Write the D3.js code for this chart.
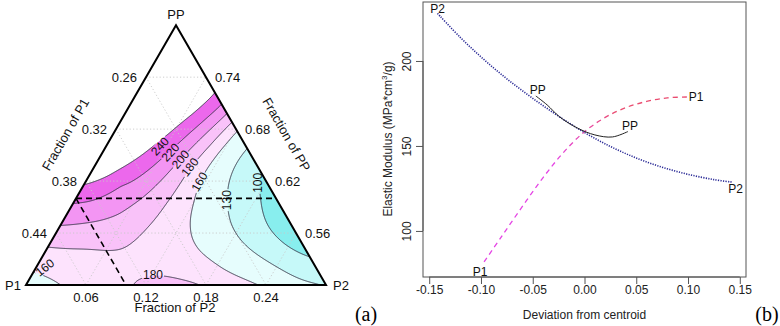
<!DOCTYPE html>
<html><head><meta charset="utf-8">
<script src="https://cdn.jsdelivr.net/npm/d3@7"></script>
<style>
body{margin:0;background:#fff;}
svg{display:block;font-family:"Liberation Sans",Arial,sans-serif;}
</style></head><body>
<svg id="c" width="780" height="326"></svg>
<script>
// ================= Panel (a): ternary contour data =================
const p2Ticks = [0.06, 0.12, 0.18, 0.24];
const ppTicks = [0.56, 0.62, 0.68, 0.74];
const p1Ticks = [0.26, 0.32, 0.38, 0.44];
const contourLevels = [100, 130, 160, 180, 200, 220, 240];
// fill for: <100, 100-130, 130-160, 160-180, 180-200, 200-220, 220-240, >240
const bandColors = ["#88eeee", "#c6f9f9", "#e6fdfd", "#fde3fd", "#f9c2f9", "#f395f3", "#ec68ec", "#ffffff"];
// points: [fraction P2, fraction PP]
const line240 = [[0.080,0.721],[0.069,0.697],[0.057,0.674],[0.042,0.651],[0.022,0.624],[0.000,0.608]];
const line220 = [[0.093,0.706],[0.079,0.680],[0.066,0.653],[0.048,0.612],[0.025,0.604],[0.000,0.601]];
const line200 = [[0.102,0.697],[0.089,0.670],[0.082,0.645],[0.070,0.608],[0.055,0.579],[0.025,0.572],[0.000,0.567]];
const line180 = [[0.113,0.685],[0.105,0.659],[0.096,0.636],[0.092,0.595],[0.087,0.567],[0.080,0.549],[0.067,0.541],[0.040,0.542],[0.000,0.544],
                 [0.099,0.500],[0.107,0.508],[0.122,0.510],[0.139,0.509],[0.164,0.505],[0.184,0.500]];
const line160 = [[0.118,0.682],[0.115,0.654],[0.114,0.625],[0.122,0.595],[0.134,0.564],[0.155,0.537],[0.188,0.517],[0.216,0.507],[0.241,0.500],
                 [0.000,0.516],[0.014,0.509],[0.032,0.500]];
const line130 = [[0.143,0.656],[0.143,0.625],[0.152,0.598],[0.168,0.572],[0.199,0.544],[0.248,0.517],[0.292,0.503]];
const line100 = [[0.165,0.633],[0.179,0.610],[0.198,0.581],[0.220,0.558],[0.246,0.541],[0.270,0.529]];
// other read values: [P2, PP, modulus]
const interiorPoints = [
  [0.001,0.795,300],[0.025,0.749,285],[0.023,0.703,270],[0.050,0.749,268],[0.006,0.636,255],[0.008,0.691,280],
  [0.2155,0.581,80],[0.238,0.552,92],[0.175,0.598,115],[0.271,0.515,118],
  [0.160,0.558,145],[0.125,0.627,145],[0.107,0.535,172],[0.052,0.523,170],[0.201,0.506,165],
  [0.000,0.500,150],[0.300,0.500,130],[0.131,0.506,183],[0.045,0.558,190],[0.038,0.614,210],[0.018,0.611,230]
];
// contour labels: [P2, PP, text, angle]
const contourLabels = [
  [0.054,0.660,"240",-48],[0.068,0.653,"220",-48],[0.082,0.645,"200",-50],[0.096,0.636,"180",-52],
  [0.114,0.619,"160",-60],[0.152,0.598,"130",-90],[0.173,0.618,"100",-90],[0.121,0.512,"180",0],[0.009,0.520,"160",-38]
];
const refPP = 0.60, refP1 = 0.40;

// ================= Panel (b): trace data =================
const devTicks = [-0.15,-0.10,-0.05,0.00,0.05,0.10,0.15];
const modTicks = [100,150,200];
const traceP2 = [[-0.142,228],[-0.12,213.9],[-0.098,201.3],[-0.075,189.5],[-0.05,178.0],[-0.025,167.5],[0,157.9],[0.025,149.7],[0.05,142.9],[0.075,137.5],[0.1,133.3],[0.125,130.2],[0.143,128.7]];
const tracePP = [[-0.047,179.4],[-0.036,174.1],[-0.024,167.1],[-0.007,160.6],[0.010,156.5],[0.027,155.3],[0.042,158.5]];
const traceP1 = [[-0.097,81.8],[-0.08,96.8],[-0.06,114.4],[-0.04,131.4],[-0.02,146.4],[0,158.4],[0.02,166.8],[0.04,172.6],[0.06,176.2],[0.08,178.3],[0.099,178.8]];

// ================= drawing =================
const svg = d3.select("#c");
const tx = d3.scaleLinear().domain([0, 0.3]).range([26, 326]);
const ty = d3.scaleLinear().domain([0.5, 0.8]).range([285, 25.2]);
const proj = (p2, pp) => [tx(p2 + (pp - 0.5) / 2), ty(pp)];

// response surface: thin-plate smoothing spline through the read values
const table = [];
[[line100,100],[line130,130],[line160,160],[line180,180],[line200,200],[line220,220],[line240,240]]
  .forEach(([pts, v]) => pts.forEach(p => table.push([p[0], p[1], v])));
interiorPoints.forEach(p => table.push(p));
const nodes = table.map(([p2, pp, v]) => { const [X, Y] = proj(p2, pp); return [X / 100, Y / 100, v]; });
const phi = r2 => r2 > 1e-12 ? 0.5 * r2 * Math.log(r2) : 0;
function solve(A, b) { const n = b.length; const M = A.map((r, i) => [...r, b[i]]);
  for (let k = 0; k < n; k++) { let p = k; for (let i = k + 1; i < n; i++) if (Math.abs(M[i][k]) > Math.abs(M[p][k])) p = i;
    [M[k], M[p]] = [M[p], M[k]];
    for (let i = k + 1; i < n; i++) { const f = M[i][k] / M[k][k]; if (f === 0) continue; for (let j = k; j <= n; j++) M[i][j] -= f * M[k][j]; } }
  const x = new Array(n).fill(0);
  for (let i = n - 1; i >= 0; i--) { let s = M[i][n]; for (let j = i + 1; j < n; j++) s -= M[i][j] * x[j]; x[i] = s / M[i][i]; }
  return x; }
const N = nodes.length, LAM = 0.1;
const A = Array.from({length: N + 3}, () => new Array(N + 3).fill(0)), rhs = new Array(N + 3).fill(0);
for (let i = 0; i < N; i++) {
  for (let j = 0; j < N; j++) { const dx = nodes[i][0] - nodes[j][0], dy = nodes[i][1] - nodes[j][1]; A[i][j] = phi(dx * dx + dy * dy); }
  A[i][i] += LAM;
  A[i][N] = 1; A[i][N + 1] = nodes[i][0]; A[i][N + 2] = nodes[i][1];
  A[N][i] = 1; A[N + 1][i] = nodes[i][0]; A[N + 2][i] = nodes[i][1];
  rhs[i] = nodes[i][2];
}
const w = solve(A, rhs);
const surface = (X, Y) => { const x = X / 100, y = Y / 100; let s = w[N] + w[N + 1] * x + w[N + 2] * y;
  for (let i = 0; i < N; i++) { const dx = x - nodes[i][0], dy = y - nodes[i][1]; s += w[i] * phi(dx * dx + dy * dy); } return s; };

const corners = [proj(0, 0.5), proj(0.3, 0.5), proj(0, 0.8)];
const triPts = corners.map(c => c.join(",")).join(" ");
const defs = svg.append("defs");
defs.append("clipPath").attr("id", "tri").append("polygon").attr("points", triPts);

const x0 = 26, y0 = 25, nx = 301, ny = 261;
const grid = new Array(nx * ny);
for (let j = 0; j < ny; j++) for (let i = 0; i < nx; i++) grid[i + j * nx] = surface(x0 + i + 0.5, y0 + j + 0.5);
const cons = d3.contours().size([nx, ny]).thresholds(contourLevels)(grid);
const gpath = d3.geoPath(d3.geoIdentity().translate([x0, y0]));

const ga = svg.append("g").attr("clip-path", "url(#tri)");
ga.append("polygon").attr("points", triPts).attr("fill", bandColors[0]);
ga.selectAll("path.band").data(cons).join("path").attr("class", "band").attr("d", gpath)
  .attr("fill", (d, i) => bandColors[i + 1]).attr("stroke", "none");

// dotted grid
const gridG = ga.append("g").attr("stroke", "#c8c8c8").attr("stroke-width", 0.9).attr("stroke-dasharray", "1.2,2.2").attr("fill", "none");
p2Ticks.forEach(t => { const a = proj(t, 0.5), b = proj(t, 0.8 - t); gridG.append("line").attr("x1", a[0]).attr("y1", a[1]).attr("x2", b[0]).attr("y2", b[1]); });
ppTicks.forEach(t => { const a = proj(0, t), b = proj(0.8 - t, t); gridG.append("line").attr("x1", a[0]).attr("y1", a[1]).attr("x2", b[0]).attr("y2", b[1]); });
p1Ticks.forEach(t => { const a = proj(0, 1 - t), b = proj(0.5 - t, 0.5); gridG.append("line").attr("x1", a[0]).attr("y1", a[1]).attr("x2", b[0]).attr("y2", b[1]); });

// contour lines with gaps at labels
const mask = defs.append("mask").attr("id", "lblmask").attr("maskUnits", "userSpaceOnUse")
  .attr("x", 0).attr("y", 0).attr("width", 780).attr("height", 326);
mask.append("rect").attr("width", 780).attr("height", 326).attr("fill", "#fff");
const lineG = ga.append("g").attr("mask", "url(#lblmask)");
lineG.selectAll("path").data(cons).join("path").attr("d", gpath).attr("fill", "none")
  .attr("stroke", "#2e2e40").attr("stroke-width", 0.9);

// contour labels
const lblG = svg.append("g").attr("font-size", 12).attr("fill", "#111");
contourLabels.forEach(([p2, pp, t, a]) => {
  const [X, Y] = proj(p2, pp);
  const txt = lblG.append("text").attr("transform", `translate(${X},${Y}) rotate(${a})`)
    .attr("text-anchor", "middle").attr("dominant-baseline", "central").text(t);
  const wd = txt.node().getComputedTextLength();
  mask.append("rect").attr("x", -wd / 2 - 1).attr("y", -5).attr("width", wd + 2).attr("height", 10)
    .attr("transform", `translate(${X},${Y}) rotate(${a})`).attr("fill", "#000");
});

// reference dashed lines
const d1 = proj(0, refPP), d2 = proj(0.8 - refPP, refPP);
const d3a = proj(1 - refP1 - refPP, refPP), d4 = proj(0.5 - refP1, 0.5);
svg.append("line").attr("x1", d1[0]).attr("y1", d1[1]).attr("x2", d2[0]).attr("y2", d2[1])
  .attr("stroke", "#000").attr("stroke-width", 1.6).attr("stroke-dasharray", "6,4");
svg.append("line").attr("x1", d3a[0]).attr("y1", d3a[1]).attr("x2", d4[0]).attr("y2", d4[1])
  .attr("stroke", "#000").attr("stroke-width", 1.6).attr("stroke-dasharray", "6,4");

// triangle border
svg.append("polygon").attr("points", triPts)
  .attr("fill", "none").attr("stroke", "#000").attr("stroke-width", 2).attr("stroke-linejoin", "miter");

// axis labels (a)
const ta = svg.append("g").attr("font-size", 13).attr("fill", "#111");
ta.append("text").attr("x", corners[2][0]).attr("y", 14).attr("text-anchor", "middle").attr("dominant-baseline", "central").text("PP");
ta.append("text").attr("x", 13).attr("y", 285).attr("text-anchor", "middle").attr("dominant-baseline", "central").text("P1");
ta.append("text").attr("x", 341).attr("y", 285).attr("text-anchor", "middle").attr("dominant-baseline", "central").text("P2");
p1Ticks.forEach(t => { const [X, Y] = proj(0, 1 - t);
  ta.append("text").attr("x", X - 9).attr("y", Y).attr("text-anchor", "end").attr("dominant-baseline", "central").text(t.toFixed(2)); });
ppTicks.forEach(t => { const [X, Y] = proj(0.8 - t, t);
  ta.append("text").attr("x", X + 9).attr("y", Y).attr("text-anchor", "start").attr("dominant-baseline", "central").text(t.toFixed(2)); });
p2Ticks.forEach(t => { const [X, Y] = proj(t, 0.5);
  ta.append("text").attr("x", X).attr("y", Y + 12).attr("text-anchor", "middle").attr("dominant-baseline", "central").text(t.toFixed(2)); });
ta.append("text").attr("x", 175).attr("y", 307).attr("text-anchor", "middle").attr("dominant-baseline", "central").text("Fraction of P2");
ta.append("text").attr("transform", "translate(65.5,134.5) rotate(-60)").attr("text-anchor", "middle").attr("dominant-baseline", "central").text("Fraction of P1");
ta.append("text").attr("transform", "translate(286.5,134.5) rotate(60)").attr("text-anchor", "middle").attr("dominant-baseline", "central").text("Fraction of PP");

svg.append("text").attr("x", 366).attr("y", 314).attr("text-anchor", "middle").attr("dominant-baseline", "central")
  .attr("font-family", "'Liberation Serif','Times New Roman',serif").attr("font-size", 20).text("(a)");
svg.append("text").attr("x", 767).attr("y", 314).attr("text-anchor", "middle").attr("dominant-baseline", "central")
  .attr("font-family", "'Liberation Serif','Times New Roman',serif").attr("font-size", 20).text("(b)");

// ================= Panel (b) =================
const bx = d3.scaleLinear().domain([-0.156, 0.156]).range([423, 746]);
const by = d3.scaleLinear().domain([72.9, 234.7]).range([277, 2]);
const gb = svg.append("g");
gb.append("rect").attr("x", 423).attr("y", 2).attr("width", 323).attr("height", 275).attr("fill", "none").attr("stroke", "#555").attr("stroke-width", 1);
const xAxis = gb.append("g").attr("transform", "translate(0,277)")
  .call(d3.axisBottom(bx).tickValues(devTicks).tickSize(7).tickSizeOuter(0).tickFormat(d => d.toFixed(2)));
xAxis.select(".domain").attr("d", `M${bx(-0.15)},0H${bx(0.15)}`).attr("stroke", "#555");
xAxis.selectAll(".tick line").attr("stroke", "#555");
xAxis.selectAll(".tick text").attr("font-size", 12).attr("font-family", "'Liberation Sans',Arial,sans-serif").attr("fill", "#222").attr("y", 13).attr("dy", "0.32em");
const yAxis = gb.append("g").attr("transform", "translate(423,0)")
  .call(d3.axisLeft(by).tickValues(modTicks).tickSize(7).tickSizeOuter(0).tickFormat(d3.format("d")));
yAxis.select(".domain").attr("d", `M0,${by(100)}V${by(200)}`).attr("stroke", "#555");
yAxis.selectAll(".tick line").attr("stroke", "#555");
yAxis.selectAll(".tick text").attr("font-size", 12).attr("font-family", "'Liberation Sans',Arial,sans-serif").attr("fill", "#222")
  .attr("x", null).attr("dy", null).attr("text-anchor", "middle").attr("dominant-baseline", "central")
  .attr("transform", "translate(-16,0) rotate(-90)");

gb.append("text").attr("x", bx(0)).attr("y", 315).attr("text-anchor", "middle").attr("dominant-baseline", "central")
  .attr("font-size", 12).attr("fill", "#222").text("Deviation from centroid");
const yt = gb.append("text").attr("transform", "translate(388,139) rotate(-90)").attr("text-anchor", "middle")
  .attr("dominant-baseline", "central").attr("font-size", 12).attr("fill", "#222");
yt.append("tspan").text("Elastic Modulus (MPa*cm");
yt.append("tspan").attr("dy", -4).attr("font-size", 8).text("3");
yt.append("tspan").attr("dy", 4).text("/g)");

const grad = defs.append("linearGradient").attr("id", "p1grad").attr("gradientUnits", "userSpaceOnUse")
  .attr("x1", bx(-0.03)).attr("y1", 0).attr("x2", bx(0.03)).attr("y2", 0);
grad.append("stop").attr("offset", 0).attr("stop-color", "#e444e4");
grad.append("stop").attr("offset", 1).attr("stop-color", "#ea4c70");

const ln = d3.line().x(d => bx(d[0])).y(d => by(d[1])).curve(d3.curveCatmullRom.alpha(0.5));
gb.append("path").attr("d", ln(traceP1)).attr("fill", "none").attr("stroke", "url(#p1grad)").attr("stroke-width", 1.3).attr("stroke-dasharray", "5,4");
gb.append("path").attr("d", ln(traceP2)).attr("fill", "none").attr("stroke", "#2a2a96").attr("stroke-width", 1.6).attr("stroke-dasharray", "1.2,1.3");
gb.append("path").attr("d", ln(tracePP)).attr("fill", "none").attr("stroke", "#222").attr("stroke-width", 1);

const endLabels = [
  [traceP2[0], "P2", 0, -4], [traceP2[traceP2.length - 1], "P2", 3, 7],
  [tracePP[0], "PP", 2, -6], [tracePP[tracePP.length - 1], "PP", 2, -6],
  [traceP1[0], "P1", -4, 10], [traceP1[traceP1.length - 1], "P1", 9, 0]
];
endLabels.forEach(([p, t, dx, dy]) => gb.append("text").attr("x", bx(p[0]) + dx).attr("y", by(p[1]) + dy)
  .attr("text-anchor", "middle").attr("dominant-baseline", "central").attr("font-size", 12).attr("fill", "#111").text(t));
</script>
</body></html>
